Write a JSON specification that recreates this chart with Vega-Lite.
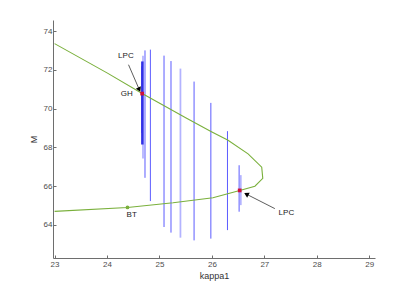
{
  "$schema": "https://vega.github.io/schema/vega-lite/v6.json",
  "width": 322,
  "height": 238,
  "autosize": {"type": "none"},
  "padding": {"left": 53, "top": 20, "right": 39, "bottom": 33},
  "background": "white",
  "config": {
    "view": {"stroke": null},
    "font": "Liberation Sans",
    "axis": {
      "grid": false,
      "domainColor": "#6e6e6e",
      "tickColor": "#6e6e6e",
      "labelColor": "#4d4d4d",
      "titleColor": "#333333",
      "labelFontSize": 8,
      "titleFontSize": 9,
      "titleFontWeight": "normal",
      "labelFont": "Liberation Sans",
      "titleFont": "Liberation Sans"
    }
  },
  "datasets": {
    "orbits": [
      {"k": 24.686, "lo": 67.43, "hi": 72.74, "kind": "wide"},
      {"k": 24.661, "lo": 68.75, "hi": 72.19, "kind": "thin"},
      {"k": 24.674, "lo": 68.15, "hi": 72.44, "kind": "dark"},
      {"k": 24.724, "lo": 66.43, "hi": 73.01, "kind": "thin"},
      {"k": 24.827, "lo": 65.23, "hi": 73.05, "kind": "thin"},
      {"k": 25.087, "lo": 63.89, "hi": 72.74, "kind": "thin"},
      {"k": 25.22, "lo": 63.6, "hi": 72.46, "kind": "thin"},
      {"k": 25.4, "lo": 63.34, "hi": 72.07, "kind": "wide"},
      {"k": 25.66, "lo": 63.2, "hi": 71.4, "kind": "thin"},
      {"k": 25.98, "lo": 63.29, "hi": 70.3, "kind": "thin"},
      {"k": 26.297, "lo": 63.73, "hi": 68.84, "kind": "thin"},
      {"k": 26.551, "lo": 65.02, "hi": 66.57, "kind": "wide"},
      {"k": 26.519, "lo": 64.68, "hi": 67.08, "kind": "thin"}
    ],
    "curve": [
      {"i": 1, "k": 23.0, "m": 73.36},
      {"i": 2, "k": 24.0, "m": 71.85},
      {"i": 3, "k": 24.67, "m": 70.78},
      {"i": 4, "k": 25.5, "m": 69.53},
      {"i": 5, "k": 26.0, "m": 68.8},
      {"i": 6, "k": 26.3, "m": 68.38},
      {"i": 7, "k": 26.69, "m": 67.67},
      {"i": 8, "k": 26.95, "m": 66.98},
      {"i": 9, "k": 26.97, "m": 66.4},
      {"i": 10, "k": 26.82, "m": 66.0},
      {"i": 11, "k": 26.53, "m": 65.78},
      {"i": 12, "k": 26.02, "m": 65.4},
      {"i": 13, "k": 25.26, "m": 65.14},
      {"i": 14, "k": 24.39, "m": 64.9},
      {"i": 15, "k": 23.0, "m": 64.7}
    ],
    "special": [
      {"k": 24.67, "m": 70.78, "type": "GH"},
      {"k": 26.53, "m": 65.78, "type": "LPC"},
      {"k": 24.39, "m": 64.9, "type": "BT"}
    ],
    "arrows": [
      {"id": "a1", "k": 24.41, "m": 72.27, "k2": 24.61, "m2": 71.02},
      {"id": "a2", "k": 27.2, "m": 64.84, "k2": 26.67, "m2": 65.57}
    ],
    "labels": [
      {"k": 24.36, "m": 72.74, "t": "LPC"},
      {"k": 24.375, "m": 70.76, "t": "GH"},
      {"k": 24.47, "m": 64.5, "t": "BT"},
      {"k": 27.42, "m": 64.59, "t": "LPC"}
    ]
  },
  "layer": [
    {
      "data": {"name": "orbits"},
      "mark": {"type": "rule"},
      "encoding": {
        "x": {
          "field": "k", "type": "quantitative",
          "scale": {"domain": [22.97, 29.11], "nice": false, "zero": false},
          "axis": {"title": "kappa1", "values": [23, 24, 25, 26, 27, 28, 29], "format": "d", "tickSize": -3, "labelPadding": 5, "titlePadding": 3}
        },
        "y": {
          "field": "lo", "type": "quantitative",
          "scale": {"domain": [62.29, 74.58], "nice": false, "zero": false},
          "axis": {"title": "M", "values": [64, 66, 68, 70, 72, 74], "format": "d", "tickSize": -3, "labelPadding": 4, "titlePadding": 5}
        },
        "y2": {"field": "hi"},
        "color": {
          "field": "kind", "type": "nominal", "legend": null,
          "scale": {"domain": ["thin", "wide", "dark"], "range": ["#5c5cff", "#b3b3ff", "#3030e6"]}
        },
        "strokeWidth": {
          "field": "kind", "type": "nominal", "legend": null,
          "scale": {"domain": ["thin", "wide", "dark"], "range": [1, 2.5, 1]}
        }
      }
    },
    {
      "data": {"name": "curve"},
      "mark": {"type": "line", "color": "#7ab03c", "strokeWidth": 1.1},
      "encoding": {
        "x": {"field": "k", "type": "quantitative"},
        "y": {"field": "m", "type": "quantitative"},
        "order": {"field": "i", "type": "quantitative"}
      }
    },
    {
      "data": {"name": "special"},
      "transform": [{"filter": "datum.type !== 'BT'"}],
      "mark": {"type": "point", "shape": "square", "filled": true, "size": 14, "color": "#d0103a", "opacity": 1},
      "encoding": {
        "x": {"field": "k", "type": "quantitative"},
        "y": {"field": "m", "type": "quantitative"}
      }
    },
    {
      "data": {"name": "special"},
      "transform": [{"filter": "datum.type === 'BT'"}],
      "mark": {"type": "point", "shape": "circle", "filled": true, "size": 14, "color": "#7ab03c", "opacity": 1},
      "encoding": {
        "x": {"field": "k", "type": "quantitative"},
        "y": {"field": "m", "type": "quantitative"}
      }
    },
    {
      "data": {"name": "arrows"},
      "mark": {"type": "rule", "color": "#333333", "strokeWidth": 0.8},
      "encoding": {
        "x": {"field": "k", "type": "quantitative"},
        "y": {"field": "m", "type": "quantitative"},
        "x2": {"field": "k2"},
        "y2": {"field": "m2"}
      }
    },
    {
      "data": {"name": "arrows"},
      "transform": [{"filter": "datum.id === 'a1'"}],
      "mark": {"type": "point", "shape": "triangle", "filled": true, "size": 30, "color": "#000000", "opacity": 1, "angle": 155},
      "encoding": {
        "x": {"field": "k2", "type": "quantitative"},
        "y": {"field": "m2", "type": "quantitative"}
      }
    },
    {
      "data": {"name": "arrows"},
      "transform": [{"filter": "datum.id === 'a2'"}],
      "mark": {"type": "point", "shape": "triangle", "filled": true, "size": 30, "color": "#000000", "opacity": 1, "angle": 298},
      "encoding": {
        "x": {"field": "k2", "type": "quantitative"},
        "y": {"field": "m2", "type": "quantitative"}
      }
    },
    {
      "data": {"name": "labels"},
      "mark": {"type": "text", "fontSize": 8, "fill": "#222222", "color": "#222222", "font": "Liberation Sans", "align": "center", "baseline": "middle"},
      "encoding": {
        "x": {"field": "k", "type": "quantitative"},
        "y": {"field": "m", "type": "quantitative"},
        "text": {"field": "t"}
      }
    }
  ]
}
